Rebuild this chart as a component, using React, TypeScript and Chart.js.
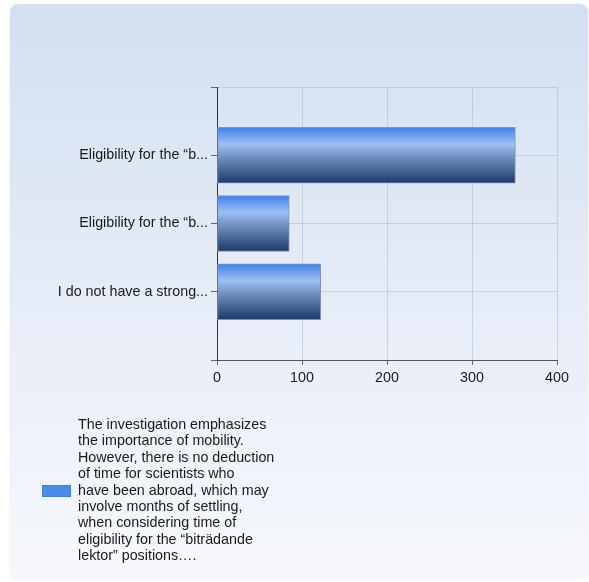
import React, { useEffect, useRef } from "react";
import { Chart, registerables } from "chart.js";

Chart.register(...registerables);

const categories = [
  "",
  "Eligibility for the \u201cb...",
  "Eligibility for the \u201cb...",
  "I do not have a strong...",
  "",
];
const seriesValues = [null, 351, 85, 122, null];
const xTicks = [0, 100, 200, 300, 400];
const legendLines = [
  "The investigation emphasizes",
  "the importance of mobility.",
  "However, there is no deduction",
  "of time for scientists who",
  "have been abroad, which may",
  "involve months of settling,",
  "when considering time of",
  "eligibility for the \u201cbitr\u00e4dande",
  "lektor\u201d positions\u2026.",
];

const FONT = "'Liberation Sans', Arial, sans-serif";
const FSIZE = 14.3;

export default function App() {
  const ref = useRef<HTMLCanvasElement | null>(null);

  useEffect(() => {
    if (!ref.current) return;
    const barColor = (c: any) => {
      const chart = c.chart;
      const ys = chart.scales?.y;
      if (!ys || c.dataIndex === undefined) return "#4a8cea";
      const cy = ys.getPixelForValue(c.dataIndex);
      if (!isFinite(cy)) return "#4a8cea";
      const g = chart.ctx.createLinearGradient(0, cy - 28, 0, cy + 28);
      g.addColorStop(0, "#3f80ea");
      g.addColorStop(0.3, "#9dbff2");
      g.addColorStop(0.55, "#6d8dbd");
      g.addColorStop(1, "#1c3968");
      return g;
    };
    const chart = new Chart(ref.current, {
      type: "bar",
      data: {
        labels: categories,
        datasets: [
          {
            label: legendLines.join(" "),
            data: seriesValues as any,
            backgroundColor: barColor,
            borderColor: "#8193b3",
            borderWidth: 1,
            borderSkipped: false,
            barThickness: 56,
          },
        ],
      },
      options: {
        indexAxis: "y",
        animation: false,
        responsive: false,
        maintainAspectRatio: false,
        layout: { padding: { top: 87, right: 32, bottom: 0, left: 0 } },
        plugins: {
          legend: { display: false },
          tooltip: { enabled: false },
        },
        scales: {
          x: {
            type: "linear",
            min: 0,
            max: 400,
            afterBuildTicks: (s: any) => {
              s.ticks = xTicks.map((v) => ({ value: v }));
            },
            afterFit: (s: any) => {
              s.height = 222;
            },
            grid: {
              color: "rgba(175,185,200,0.55)",
              tickColor: "#666",
              tickLength: 5,
              drawTicks: true,
            },
            border: { color: "#555", width: 1 },
            ticks: {
              color: "#1a1a1a",
              font: { family: FONT, size: FSIZE },
              padding: 4,
              maxRotation: 0,
            },
          },
          y: {
            type: "category",
            offset: false,
            afterFit: (s: any) => {
              s.width = 217;
            },
            grid: {
              offset: false,
              color: "rgba(175,185,200,0.55)",
              tickColor: "#666",
              tickLength: 6,
            },
            border: { color: "#333", width: 1 },
            ticks: {
              color: "#1a1a1a",
              font: { family: FONT, size: FSIZE },
              padding: 3,
              autoSkip: false,
            },
          },
        },
      },
    });
    return () => chart.destroy();
  }, []);

  return (
    <div
      style={{
        position: "fixed",
        left: 0,
        top: 0,
        width: 589,
        height: 582,
        background: "#ffffff",
        overflow: "hidden",
      }}
    >
      <div
        style={{
          position: "absolute",
          left: 10,
          top: 4,
          width: 578,
          height: 576,
          borderRadius: 8,
          background: "linear-gradient(to bottom, #d3dff0 0%, #e6ecf6 50%, #f6f8fc 100%)",
          boxShadow: "0 0 2px rgba(0,0,0,0.12)",
        }}
      />
      <canvas
        ref={ref}
        width={589}
        height={582}
        style={{ position: "absolute", left: 0, top: 0, width: 589, height: 582 }}
      />
      <div
        style={{
          position: "absolute",
          left: 42,
          top: 485,
          width: 29,
          height: 12,
          background: "#4a8cea",
          boxShadow: "inset 0 0 0 1px rgba(70,110,170,0.35)",
        }}
      />
      <div
        style={{
          position: "absolute",
          left: 78,
          top: 416,
          fontFamily: FONT,
          fontSize: FSIZE,
          lineHeight: "16.4px",
          color: "#1a1a1a",
          whiteSpace: "pre",
        }}
      >
        {legendLines.join("\n")}
      </div>
    </div>
  );
}
